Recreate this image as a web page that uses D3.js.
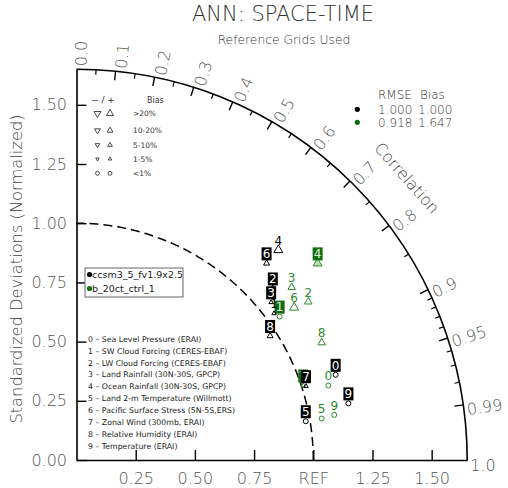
<!DOCTYPE html>
<html>
<head>
<meta charset="utf-8">
<script src="https://cdn.jsdelivr.net/npm/d3@7"></script>
<style>
  body { margin: 0; background: #fff; }
  svg text { font-family: "DejaVu Sans", sans-serif; }
</style>
</head>
<body>
<script>
// Taylor diagram, ANN space-time

// data
const varIds = [0, 1, 2, 3, 4, 5, 6, 7, 8, 9];
const varNames = ["Sea Level Pressure (ERAI)", "SW Cloud Forcing (CERES-EBAF)", "LW Cloud Forcing (CERES-EBAF)",
  "Land Rainfall (30N-30S, GPCP)", "Ocean Rainfall (30N-30S, GPCP)", "Land 2-m Temperature (Willmott)",
  "Pacific Surface Stress (5N-5S,ERS)", "Zonal Wind (300mb, ERAI)", "Relative Humidity (ERAI)", "Temperature (ERAI)"];
const caseNames = ["ccsm3_5_fv1.9x2.5", "b_20ct_ctrl_1"];
const caseRmse = ["1.000", "0.918"];
const caseBiasIdx = ["1.000", "1.647"];

// normalized std dev (ratio) and correlation for each variable
const case1Ratio = [1.152, 1.039, 1.101, 1.058, 1.230, 0.982, 1.155, 1.018, 0.971, 1.173];
const case1Corr  = [0.950, 0.803, 0.753, 0.777, 0.693, 0.986, 0.695, 0.952, 0.842, 0.979];
const case1Bias  = [0.5, 4, 7, 4, 25, 0.4, 8, 3, 8, 0.6];
const case1Boxed = [1, 0, 1, 1, 0, 1, 1, 1, 1, 1];

const case2Ratio = [1.109, 1.050, 1.185, 1.165, 1.314, 1.050, 1.122, 1.008, 1.148, 1.105];
const case2Corr  = [0.959, 0.817, 0.826, 0.780, 0.775, 0.986, 0.819, 0.950, 0.902, 0.985];
const case2Bias  = [0.7, 0.8, 15, 12, 28, 0.3, 22, 4, 16, 0.5];
const case2Boxed = [0, 1, 0, 0, 1, 0, 0, 1, 0, 0];

// axis ticks
const sdTicks = [0, 0.25, 0.5, 0.75, 1.0, 1.25, 1.5];
const xTicks = [0.25, 0.5, 0.75, 1.0, 1.25, 1.5];
const corrMajor = [0.0, 0.1, 0.2, 0.3, 0.4, 0.5, 0.6, 0.7, 0.8, 0.9, 0.95, 0.99, 1.0];
const corrMinor = [0.05, 0.15, 0.25, 0.35, 0.45, 0.55, 0.65, 0.75, 0.85, 0.91, 0.92, 0.93, 0.94, 0.96, 0.97, 0.98];
const corrLabels = ["0.0", "0.1", "0.2", "0.3", "0.4", "0.5", "0.6", "0.7", "0.8", "0.9", "0.95", "0.99", "1.0"];

// bias legend
const biasCats = [">20%", "10-20%", "5-10%", "1-5%", "<1%"];

const w = 508, h = 488;
const ox = 76.5, oy = 460;   // origin of the diagram
const maxSD = 1.65;
const R = 390.7;             // pixel radius of maxSD

const colors = ["#000000", "#2e8b2e"];
const boxFill = ["#000000", "#0f6e0f"];
const boxText = ["#ffffff", "#dff3df"];

const svg = d3.select("body").append("svg")
  .attr("width", w).attr("height", h);

const xScale = d3.scaleLinear().domain([0, maxSD]).range([ox, ox + R]);
const yScale = d3.scaleLinear().domain([0, maxSD]).range([oy, oy - R]);
const rScale = d3.scaleLinear().domain([0, maxSD]).range([0, R]);

// Titles
svg.append("text").attr("x", 283).attr("y", 21).attr("text-anchor", "middle")
  .style("font-size", "21px").attr("fill", "#333").style("font-weight", 300)
  .text("ANN: SPACE-TIME");
svg.append("text").attr("x", 284).attr("y", 43.5).attr("text-anchor", "middle")
  .style("font-size", "12.3px").attr("fill", "#333").style("font-weight", 300)
  .text("Reference Grids Used");

// Y axis label
svg.append("text")
  .attr("transform", "translate(22," + 269 + ") rotate(-90)")
  .attr("text-anchor", "middle")
  .style("font-size", "16.3px").attr("fill", "#444").style("font-weight", 300)
  .text("Standardized Deviations (Normalized)");

// Axes
const bottomAxis = d3.axisBottom(xScale)
  .tickValues(xTicks)
  .tickSize(-10).tickSizeOuter(0).tickPadding(13)
  .tickFormat(d => d === 1 ? "REF" : d3.format(".2f")(d));
const leftAxis = d3.axisLeft(yScale)
  .tickValues(sdTicks)
  .tickSize(-10).tickSizeOuter(0).tickPadding(9.5)
  .tickFormat(d3.format(".2f"));

const gx = svg.append("g").attr("transform", "translate(0," + oy + ")").call(bottomAxis);
const gy = svg.append("g").attr("transform", "translate(" + ox + ",0)").call(leftAxis);
[gx, gy].forEach(g => {
  g.select(".domain").attr("stroke", "#000").attr("stroke-width", 1.6);
  g.selectAll(".tick line").attr("stroke", "#000").attr("stroke-width", 1.4);
  g.selectAll(".tick text").style("font-size", "16px").style("font-family", "DejaVu Sans")
    .style("font-weight", 300).attr("fill", "#555");
});

// outer arc and REF arc
const outerArc = d3.arc().innerRadius(R).outerRadius(R).startAngle(0).endAngle(Math.PI / 2);
svg.append("path").attr("transform", "translate(" + ox + "," + oy + ")")
  .attr("d", outerArc()).attr("fill", "none").attr("stroke", "#000").attr("stroke-width", 1.6);

svg.append("path").attr("transform", "translate(" + ox + "," + oy + ")")
  .attr("d", d3.line()(d3.range(0, 91, 1).map(a => {
    const t = a * Math.PI / 180;
    return [rScale(1) * Math.cos(t), -rScale(1) * Math.sin(t)];
  })))
  .attr("fill", "none").attr("stroke", "#000").attr("stroke-width", 1.5)
  .attr("stroke-dasharray", "9,5");

// correlation ticks
function corrTick(r, len) {
  const t = Math.acos(r);
  return [[ox + R * Math.cos(t), oy - R * Math.sin(t)],
          [ox + (R - len) * Math.cos(t), oy - (R - len) * Math.sin(t)]];
}
svg.selectAll(".cmaj").data(corrMajor.filter(r => r > 0 && r < 1)).enter().append("path")
  .attr("d", r => d3.line()(corrTick(r, 9)))
  .attr("stroke", "#000").attr("stroke-width", 1.4);
svg.selectAll(".cmin").data(corrMinor).enter().append("path")
  .attr("d", r => d3.line()(corrTick(r, 5)))
  .attr("stroke", "#000").attr("stroke-width", 1.2);

// correlation labels
svg.selectAll(".clab").data(corrMajor).enter().append("text")
  .attr("transform", r => {
    const t = Math.acos(r);
    const x = ox + (R + 3) * Math.cos(t), y = oy - (R + 3) * Math.sin(t);
    return "translate(" + x + "," + y + ") rotate(" + (-t * 180 / Math.PI) + ")";
  })
  .attr("x", 0).attr("y", 5).attr("dy", "0.35em")
  .style("font-size", "16px").style("font-weight", 300).attr("fill", "#555")
  .text((r, i) => corrLabels[i]);

svg.append("text")
  .attr("transform", "translate(407,178) rotate(48.6)")
  .attr("text-anchor", "middle").attr("dy", "0.35em")
  .style("font-size", "16px").style("font-weight", 300).attr("fill", "#444")
  .text("Correlation");

// markers
function biasCat(b) {
  const a = Math.abs(b);
  return a < 1 ? 0 : a < 5 ? 1 : a < 10 ? 2 : a < 20 ? 3 : 4;
}
const triSide = [0, 4.5, 6, 7.5, 9];
function markerPath(b, scale) {
  const c = biasCat(b);
  if (c === 0) return d3.symbol(d3.symbolCircle, Math.PI * Math.pow(2.5 * scale, 2))();
  const s = triSide[c] * scale;
  return d3.symbol(d3.symbolTriangle, Math.sqrt(3) / 4 * s * s)();
}

const cases = [
  { ratio: case1Ratio, corr: case1Corr, bias: case1Bias, boxed: case1Boxed },
  { ratio: case2Ratio, corr: case2Corr, bias: case2Bias, boxed: case2Boxed }
];

// draw green case first, black on top
[1, 0].forEach(ci => {
  const c = cases[ci];
  const pts = varIds.map(i => ({
    id: i,
    x: xScale(c.ratio[i] * c.corr[i]),
    y: yScale(c.ratio[i] * Math.sqrt(1 - c.corr[i] * c.corr[i])),
    bias: c.bias[i],
    boxed: c.boxed[i]
  }));
  const g = svg.append("g");
  g.selectAll("path").data(pts).enter().append("path")
    .attr("transform", d => "translate(" + d.x + "," + d.y + ")" + (d.bias < 0 ? " rotate(180)" : ""))
    .attr("d", d => markerPath(d.bias, 1))
    .attr("fill", d => (ci === 1 && d.id === 4) ? "#b9dcb9" : "none")
    .attr("stroke", colors[ci]).attr("stroke-width", 1);
  g.selectAll("rect").data(pts.filter(d => d.boxed)).enter().append("rect")
    .attr("x", d => d.x - 5).attr("y", d => d.y - 9.5 - 6.5)
    .attr("width", 10).attr("height", 13)
    .attr("fill", boxFill[ci]);
  g.selectAll("text").data(pts).enter().append("text")
    .attr("x", d => d.x).attr("y", d => d.y - 9.5)
    .attr("text-anchor", "middle").attr("dy", "0.36em")
    .style("font-size", "12px")
    .attr("fill", d => d.boxed ? boxText[ci] : colors[ci])
    .text(d => d.id);
});

// bias legend (upper left)
svg.append("text").attr("x", 103).attr("y", 100).attr("dy", "0.35em").attr("text-anchor", "middle")
  .style("font-size", "9px").attr("fill", "#333").text("\u2212  /  +");
svg.append("text").attr("x", 147).attr("y", 100).attr("dy", "0.35em")
  .style("font-size", "8px").attr("fill", "#333").text("Bias");
const legRowY = [113.5, 130.5, 145, 159, 173.3];
const legBias = [25, 15, 7, 3, 0.5];
biasCats.forEach((lab, i) => {
  svg.append("path").attr("transform", "translate(97.5," + legRowY[i] + ") rotate(180)")
    .attr("d", markerPath(-legBias[i], 0.78)).attr("fill", "none").attr("stroke", "#333").attr("stroke-width", 0.9);
  svg.append("path").attr("transform", "translate(110," + legRowY[i] + ")")
    .attr("d", markerPath(legBias[i], 0.78)).attr("fill", "none").attr("stroke", "#333").attr("stroke-width", 0.9);
  svg.append("text").attr("x", 133).attr("y", legRowY[i]).attr("dy", "0.35em")
    .style("font-size", "7.5px").attr("fill", "#333").text(lab);
});

// RMSE / Bias legend (upper right)
svg.append("text").attr("x", 378).attr("y", 94.3).attr("dy", "0.35em")
  .style("font-size", "12px").attr("fill", "#333").style("font-weight", 300).text("RMSE");
svg.append("text").attr("x", 420).attr("y", 94.3).attr("dy", "0.35em")
  .style("font-size", "12px").attr("fill", "#333").style("font-weight", 300).text("Bias");
caseNames.forEach((n, i) => {
  const y = 109.3 + i * 13;
  svg.append("circle").attr("cx", 357.3).attr("cy", y).attr("r", 2.6).attr("fill", boxFill[i]);
  svg.append("text").attr("x", 378).attr("y", y).attr("dy", "0.35em")
    .style("font-size", "12px").attr("fill", "#333").style("font-weight", 300).text(caseRmse[i]);
  svg.append("text").attr("x", 418).attr("y", y).attr("dy", "0.35em")
    .style("font-size", "12px").attr("fill", "#333").style("font-weight", 300).text(caseBiasIdx[i]);
});

// case legend box
svg.append("rect").attr("x", 85).attr("y", 268).attr("width", 98).attr("height", 29)
  .attr("fill", "#fff").attr("stroke", "#666").attr("stroke-width", 1);
caseNames.forEach((n, i) => {
  const y = 274.5 + i * 14;
  svg.append("circle").attr("cx", 89.5).attr("cy", y).attr("r", 2.6).attr("fill", boxFill[i]);
  svg.append("text").attr("x", 92).attr("y", y).attr("dy", "0.35em")
    .style("font-size", "9.5px").attr("fill", "#222").text(n);
});

// variable legend (lower left)
svg.selectAll(".vlab").data(varIds).enter().append("text")
  .attr("x", 88).attr("y", i => 339 + i * 11.9).attr("dy", "0.35em")
  .style("font-size", "7.8px").attr("fill", "#222")
  .text(i => i + " \u2013 " + varNames[i]);
</script>
</body>
</html>
